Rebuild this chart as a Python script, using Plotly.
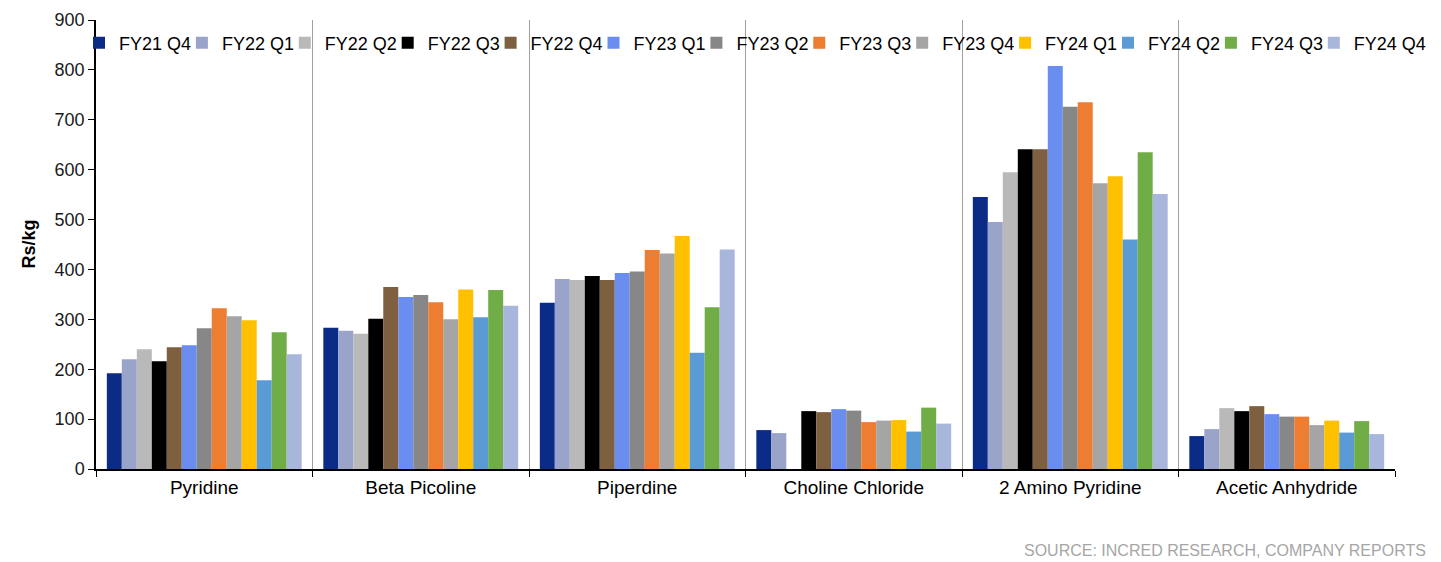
import plotly.graph_objects as go

categories = ["Pyridine", "Beta Picoline", "Piperdine", "Choline Chloride", "2 Amino Pyridine", "Acetic Anhydride"]

quarters = ["FY21 Q4", "FY22 Q1", "FY22 Q2", "FY22 Q3", "FY22 Q4", "FY23 Q1", "FY23 Q2",
            "FY23 Q3", "FY23 Q4", "FY24 Q1", "FY24 Q2", "FY24 Q3", "FY24 Q4"]

fy21_q4 = [192, 283, 333, 78, 545, 66]
fy22_q1 = [220, 277, 381, 72, 495, 80]
fy22_q2 = [240, 271, 379, None, 595, 122]
fy22_q3 = [216, 301, 387, 116, 641, 116]
fy22_q4 = [244, 365, 379, 114, 641, 126]
fy23_q1 = [248, 345, 393, 120, 808, 110]
fy23_q2 = [282, 349, 396, 117, 726, 105]
fy23_q3 = [322, 334, 439, 94, 735, 105]
fy23_q4 = [306, 300, 432, 97, 573, 88]
fy24_q1 = [298, 360, 467, 98, 587, 97]
fy24_q2 = [178, 304, 233, 75, 460, 73]
fy24_q3 = [274, 359, 324, 123, 635, 96]
fy24_q4 = [230, 327, 440, 91, 551, 70]

series = [fy21_q4, fy22_q1, fy22_q2, fy22_q3, fy22_q4, fy23_q1, fy23_q2,
          fy23_q3, fy23_q4, fy24_q1, fy24_q2, fy24_q3, fy24_q4]

colors = ["#0B2C86", "#9AA4CA", "#B9B9B9", "#000000", "#7E5F40", "#6A8EF0", "#878787",
          "#ED7D31", "#A5A5A5", "#FFC000", "#5B9BD5", "#70AD47", "#A8B6DC"]

FONT = "Arial, Liberation Sans, sans-serif"
W, H = 1441, 562
LEGEND_LEFT = 79      # px, first legend entry
LEGEND_PITCH = 102.9  # px between entries

fig = go.Figure()
legend_layouts = {}
for i, (name, vals, col) in enumerate(zip(quarters, series, colors)):
    key = "legend" if i == 0 else f"legend{i + 1}"
    fig.add_trace(go.Bar(x=categories, y=vals, name=name, legend=key,
                         marker=dict(color=col, line=dict(width=0))))
    legend_layouts[key] = dict(
        orientation="h", xref="container", x=(LEGEND_LEFT + LEGEND_PITCH * i) / W,
        xanchor="left", yref="paper", y=0.9488, yanchor="middle",
        bgcolor="rgba(0,0,0,0)", font=dict(size=18, family=FONT, color="#000000"),
        itemwidth=30,
    )

fig.update_layout(
    width=W, height=H,
    barmode="group", bargap=0.1, bargroupgap=0,
    plot_bgcolor="white", paper_bgcolor="white",
    margin=dict(l=96, r=46, t=20, b=93, autoexpand=False),
    font=dict(family=FONT, size=18, color="#000000"),
    showlegend=True,
    **legend_layouts,
)

fig.update_xaxes(
    showline=True, linecolor="#000000", linewidth=1.5,
    ticks="outside", tickson="boundaries", ticklen=6, tickcolor="#000000",
    showgrid=True, gridcolor="#a0a0a0", gridwidth=1,
    tickfont=dict(size=19, family=FONT, color="#000000"),
    mirror=False,
)
fig.update_yaxes(
    range=[0, 900], dtick=100, tick0=0,
    showline=True, linecolor="#000000", linewidth=1.5,
    ticks="outside", ticklen=6, tickcolor="#000000",
    showgrid=False, zeroline=False,
    tickfont=dict(size=18, family=FONT, color="#1a1a1a"),
)

fig.add_annotation(text="<b>Rs/kg</b>", textangle=-90,
                   xref="paper", yref="paper", x=-0.0523, y=0.5,
                   xanchor="center", yanchor="middle", showarrow=False,
                   font=dict(size=18, family=FONT, color="#000000"))

fig.add_annotation(text="SOURCE: INCRED RESEARCH, COMPANY REPORTS",
                   xref="paper", yref="paper", x=1.0, y=-0.1826,
                   xshift=33, xanchor="right", yanchor="middle", showarrow=False,
                   font=dict(size=16, family=FONT, color="#a6a6a6"))

fig.write_html("out.html")
